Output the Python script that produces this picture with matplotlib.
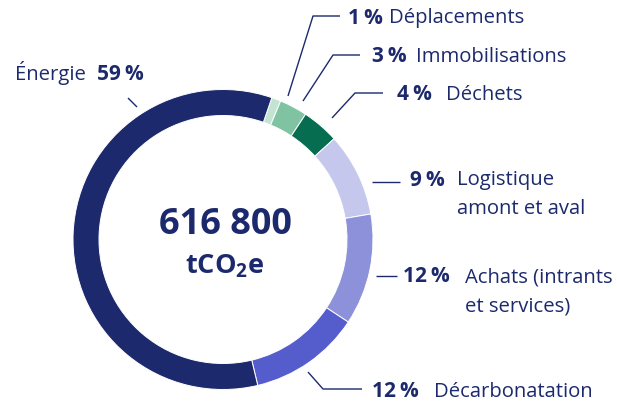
import matplotlib
matplotlib.use("Agg")
import matplotlib.pyplot as plt

# données (ordre horaire à partir du haut)
categories = ["Déplacements", "Immobilisations", "Déchets", "Logistique\namont et aval",
              "Achats (intrants\net services)", "Décarbonatation", "Énergie"]
shares = [1, 3, 4, 9, 12, 12, 59]
colors = ["#c4e4d3", "#7fc3a2", "#076d50", "#c5c8ec", "#8c91d9", "#555dcc", "#1c2a6d"]
total_label = "616 800"

NAVY = "#1c2a6d"
W, H = 617, 406

plt.rcParams['font.family'] = ['Open Sans', 'DejaVu Sans']
FS_NAME = 14.6
FS_PCT = 15

fig = plt.figure(figsize=(W / 100, H / 100), dpi=100)
ax = fig.add_axes([0, 0, 1, 1])
ax.set_xlim(0, W)
ax.set_ylim(0, H)
ax.set_aspect('equal')
ax.axis('off')


def Y(y):
    # pixel y (haut) -> coord axe
    return H - y


cx, cy, R = 223, Y(240.5), 150
ax.pie(shares, colors=colors, startangle=71, counterclock=False,
       center=(cx, cy), radius=R,
       wedgeprops=dict(width=26, edgecolor='white', linewidth=0.7))
ax.set_xlim(0, W)
ax.set_ylim(0, H)

# centre
ax.text(cx + 2, Y(225), total_label, ha='center', va='center', color=NAVY,
        fontsize=26, fontweight='bold')
ax.text(cx + 2, Y(266), r"tCO$_\mathregular{2}$e", ha='center', va='center',
        color=NAVY, fontsize=19.5, fontweight='bold')


def leader(pts):
    xs = [p[0] for p in pts]
    ys = [Y(p[1]) for p in pts]
    ax.plot(xs, ys, color=NAVY, lw=1.0, solid_capstyle='butt')


def pct(x, y, s):
    ax.text(x, Y(y), s, ha='left', va='center', color=NAVY,
            fontsize=FS_PCT, fontweight='bold')


def name(x, y, s, va='center', ls=1.5):
    ax.text(x, Y(y), s, ha='left', va=va, color=NAVY,
            fontsize=FS_NAME, linespacing=ls)


# Énergie
name(15, 73, "Énergie")
pct(97, 75, f"{shares[6]}\u2009%")
leader([(128, 99), (137, 108)])

leader([(288, 97), (313, 17), (340, 17)])
pct(348, 18, f"{shares[0]}\u2009%")
name(389, 18, categories[0])

leader([(303, 102), (333, 56), (360, 56)])
pct(372, 57, f"{shares[1]}\u2009%")
name(416, 57, categories[1])

leader([(332, 119), (355, 94), (383, 94)])
pct(397, 95, f"{shares[2]}\u2009%")
name(446, 95, categories[2])

leader([(372, 183), (400, 183)])
pct(410, 181, f"{shares[3]}\u2009%")
name(457, 170, categories[3], va='top', ls=1.62)

leader([(376, 277), (397, 277)])
pct(403, 276, f"{shares[4]}\u2009%")
name(465, 267, categories[4], va='top', ls=1.62)

leader([(308, 373), (323, 390), (362, 390)])
pct(372, 392, f"{shares[5]}\u2009%")
name(434, 392, categories[5])

fig.savefig("out.png", dpi=100)
